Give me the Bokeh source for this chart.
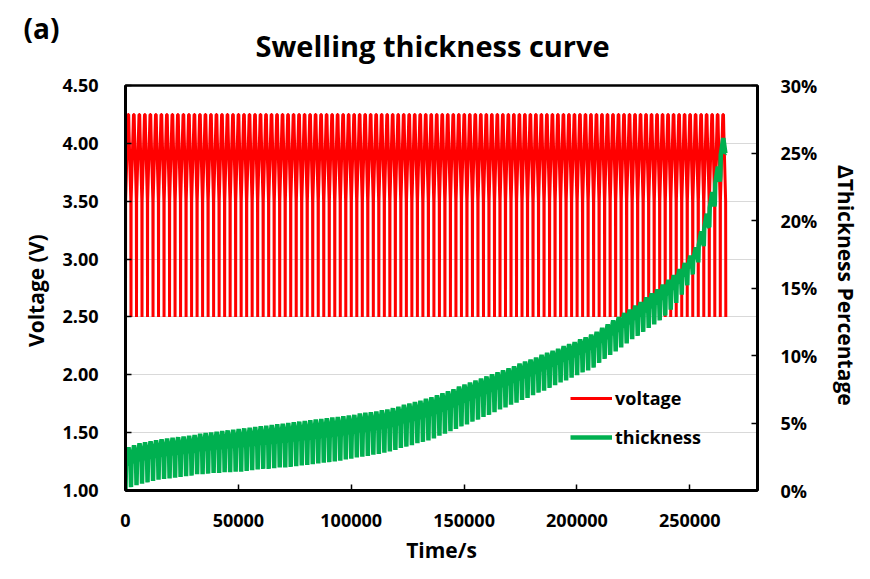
from bokeh.plotting import figure
from bokeh.models import (Range1d, LinearAxis, FixedTicker, Legend, LegendItem, Title,
                          CustomJSTickFormatter, NumeralTickFormatter)
from bokeh.embed import file_html
from bokeh.resources import INLINE

# ---------------- data ----------------
cycle_start_s = [
    0, 2440, 4880, 7320, 9760, 12200, 14640, 17080, 19520, 21960,
    24400, 26840, 29280, 31720, 34160, 36600, 39040, 41480, 43920, 46360,
    48800, 51240, 53680, 56120, 58560, 61000, 63440, 65880, 68320, 70760,
    73200, 75640, 78080, 80520, 82960, 85400, 87840, 90280, 92720, 95160,
    97600, 100040, 102480, 104920, 107360, 109800, 112240, 114680, 117120, 119560,
    122000, 124440, 126880, 129320, 131760, 134200, 136640, 139080, 141520, 143960,
    146400, 148840, 151280, 153720, 156160, 158600, 161040, 163480, 165920, 168360,
    170800, 173240, 175680, 178120, 180560, 183000, 185440, 187880, 190320, 192760,
    195200, 197640, 200080, 202520, 204960, 207400, 209840, 212280, 214720, 217160,
    219600, 222040, 224480, 226920, 229360, 231800, 234240, 236680, 239120, 241560,
    244000, 246440, 248880, 251320, 253760, 256200, 258640, 261080, 263520,
]
cycle_end_s = 265960

# voltage profile of one cycle (fraction of the cycle, volts)
volt_phase = [0.00, 0.02, 0.45, 0.58, 0.64, 0.97]
volt_shape = [2.50, 3.50, 4.25, 4.25, 4.10, 3.50]
volt_end = 2.50

# thickness (%) minimum and maximum of every cycle
thick_trough = [
    0.1, 0.25, 0.4, 0.5, 0.6, 0.7, 0.8, 0.85, 0.9, 0.95,
    1.0, 1.05, 1.1, 1.2, 1.2, 1.25, 1.3, 1.3, 1.35, 1.35,
    1.4, 1.4, 1.45, 1.5, 1.55, 1.6, 1.6, 1.65, 1.7, 1.7,
    1.75, 1.8, 1.85, 1.9, 1.95, 2.0, 2.05, 2.1, 2.15, 2.2,
    2.3, 2.35, 2.45, 2.5, 2.55, 2.65, 2.7, 2.8, 2.9, 3.0,
    3.15, 3.25, 3.35, 3.5, 3.6, 3.7, 3.85, 4.05, 4.2, 4.4,
    4.55, 4.75, 4.9, 5.1, 5.25, 5.45, 5.6, 5.8, 6.0, 6.15,
    6.35, 6.5, 6.7, 6.85, 7.05, 7.25, 7.4, 7.6, 7.8, 8.0,
    8.15, 8.35, 8.55, 8.75, 8.9, 9.1, 9.45, 9.75, 10.05, 10.3,
    10.6, 10.9, 11.2, 11.45, 11.75, 12.05, 12.3, 12.6, 12.95, 13.4,
    13.9, 14.5, 15.2, 16.0, 16.9, 18.1, 19.5, 21.2, 23.3,
]
thick_peak = [
    3.2, 3.35, 3.5, 3.57, 3.65, 3.72, 3.8, 3.85, 3.9, 3.95,
    4.0, 4.05, 4.1, 4.2, 4.25, 4.3, 4.35, 4.4, 4.45, 4.5,
    4.55, 4.6, 4.65, 4.7, 4.75, 4.8, 4.85, 4.9, 4.95, 5.0,
    5.05, 5.1, 5.15, 5.2, 5.25, 5.3, 5.35, 5.4, 5.45, 5.5,
    5.55, 5.6, 5.7, 5.75, 5.8, 5.85, 5.95, 6.0, 6.1, 6.2,
    6.35, 6.45, 6.55, 6.65, 6.8, 6.9, 7.05, 7.2, 7.35, 7.5,
    7.7, 7.85, 8.0, 8.15, 8.3, 8.45, 8.6, 8.75, 8.9, 9.05,
    9.2, 9.4, 9.55, 9.7, 9.85, 10.05, 10.2, 10.35, 10.5, 10.7,
    10.85, 11.0, 11.2, 11.35, 11.55, 11.75, 12.05, 12.3, 12.6, 12.85,
    13.15, 13.4, 13.7, 13.95, 14.3, 14.6, 14.9, 15.25, 15.6, 15.95,
    16.4, 16.85, 17.4, 18.0, 19.2, 20.5, 22.1, 24.0, 26.1,
]
thick_end = 25.0
# thickness profile within a cycle (fraction of cycle, fraction of trough->peak)
thick_phase = [0.00, 0.08, 0.55, 0.92]
thick_frac = [0.00, 0.55, 1.00, 0.60]

x_ticks = [0, 50000, 100000, 150000, 200000, 250000]
volt_ticks = [1.0, 1.5, 2.0, 2.5, 3.0, 3.5, 4.0, 4.5]
pct_ticks = [0, 5, 10, 15, 20, 25, 30]

# ---------------- build series ----------------
t_v, v = [], []
t_th, th = [], []
n = len(cycle_start_s)
for k, t0 in enumerate(cycle_start_s):
    t1 = cycle_start_s[k + 1] if k + 1 < n else cycle_end_s
    per = t1 - t0
    for ph, vv in zip(volt_phase, volt_shape):
        t_v.append(t0 + ph * per)
        v.append(vv)
    lo, hi = thick_trough[k], thick_peak[k]
    for ph, fr in zip(thick_phase, thick_frac):
        t_th.append(t0 + ph * per)
        th.append(lo + fr * (hi - lo))
t_v.append(cycle_end_s); v.append(volt_end)
t_th.append(cycle_end_s); th.append(thick_end)

FONT = "Open Sans"

p = figure(width=870, height=579, x_range=Range1d(0, 280000), y_range=Range1d(1.0, 4.5),
           output_backend="svg", toolbar_location=None,
           min_border_left=125, min_border_right=113, min_border_top=85, min_border_bottom=89)
p.extra_y_ranges = {"pct": Range1d(0, 30)}

p.outline_line_color = "black"
p.outline_line_width = 2.5
p.xgrid.visible = False
p.ygrid.ticker = FixedTicker(ticks=volt_ticks)
p.ygrid.grid_line_color = "#d9d9d9"
p.ygrid.grid_line_width = 1

rv = p.line(t_v, v, line_color="#ff0000", line_width=3)
rt = p.line(t_th, th, line_color="#00b050", line_width=4.5, y_range_name="pct")

def style_axis(ax):
    ax.axis_line_color = "black"
    ax.axis_line_width = 3
    ax.major_tick_in = 6
    ax.major_tick_out = 0
    ax.minor_tick_line_color = None
    ax.major_tick_line_width = 1.5
    ax.major_tick_line_color = "black"
    ax.major_label_text_font = FONT
    ax.major_label_text_font_style = "bold"
    ax.major_label_text_font_size = "18px"
    ax.major_label_text_color = "black"
    ax.axis_label_text_font = FONT
    ax.axis_label_text_font_style = "bold"
    ax.axis_label_text_font_size = "21px"
    ax.axis_label_text_color = "black"

xa = p.xaxis[0]
xa.ticker = FixedTicker(ticks=x_ticks)
xa.formatter = NumeralTickFormatter(format="0")
xa.axis_label = "Time/s"
style_axis(xa)
xa.major_label_standoff = 23
xa.axis_label_standoff = 6

ya = p.yaxis[0]
ya.ticker = FixedTicker(ticks=volt_ticks)
ya.formatter = NumeralTickFormatter(format="0.00")
ya.axis_label = "Voltage  (V)"
style_axis(ya)
ya.major_label_standoff = 27
ya.axis_label_standoff = 9

ra = LinearAxis(y_range_name="pct", ticker=FixedTicker(ticks=pct_ticks),
                formatter=CustomJSTickFormatter(code="return tick + '%';"),
                axis_label="ΔThickness  Percentage")
style_axis(ra)
ra.major_label_standoff = 23
ra.axis_label_standoff = 12
p.add_layout(ra, "right")

legend = Legend(items=[LegendItem(label="voltage", renderers=[rv]),
                       LegendItem(label="thickness", renderers=[rt])],
                location=(445, 41), orientation="vertical",
                glyph_width=42, glyph_height=20, label_height=20, spacing=15,
                label_standoff=3, padding=0, margin=0,
                background_fill_alpha=0, border_line_color=None,
                label_text_font=FONT, label_text_font_style="bold",
                label_text_font_size="18px", label_text_color="black")
p.add_layout(legend, "center")

main_title = Title(text="Swelling thickness curve", align="left", offset=130, standoff=41,
                   text_font=FONT, text_font_style="bold", text_font_size="29px",
                   text_color="black")
tag_title = Title(text="(a)", align="left", offset=-102, standoff=-87,
                  text_font=FONT, text_font_style="bold", text_font_size="28px",
                  text_color="black")
p.add_layout(main_title, "above")
p.add_layout(tag_title, "above")

open("out.html", "w").write(file_html(p, INLINE))
